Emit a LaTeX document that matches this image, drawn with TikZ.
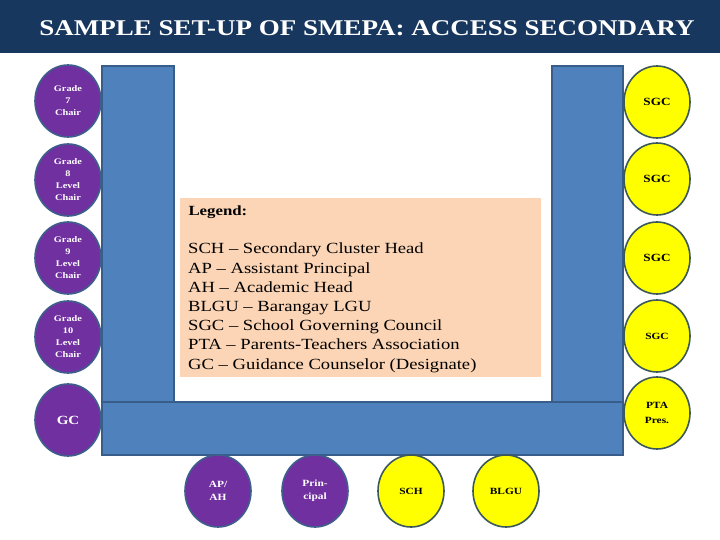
\documentclass[tikz,border=0pt]{standalone}
\usepackage{fontspec}
\setmainfont{Liberation Serif}
\newfontfamily\bookfont[FakeStretch=1.2]{Liberation Serif}
\usepackage{tikz}
\usetikzlibrary{shapes.geometric,positioning}

\definecolor{navybar}{HTML}{17375E}
\definecolor{tablefill}{HTML}{4F81BD}
\definecolor{tableline}{HTML}{385D8A}
\definecolor{purpleseat}{HTML}{7030A0}
\definecolor{purpleline}{HTML}{3E5F8C}
\definecolor{yellowseat}{HTML}{FFFF00}
\definecolor{yellowline}{HTML}{3C5858}
\definecolor{legendfill}{HTML}{FBD5B5}

\begin{document}
\begin{tikzpicture}[x=1pt, y=-1pt,
  seat/.style={ellipse, line width=1.6pt, minimum width=66pt, minimum height=72pt,
    inner sep=0pt, align=center, font=\bookfont\bfseries\fontsize{8.6}{12}\selectfont},
  purpleseat/.style={seat, fill=purpleseat, draw=purpleline, text=white},
  yellowseat/.style={seat, fill=yellowseat, draw=yellowline, text=black},
  tablepart/.style={fill=tablefill, draw=tableline, line width=1.2pt}]

\useasboundingbox (0,0) rectangle (720,540);

% ---- Title bar ----
\fill[navybar] (0,0) rectangle (720,53);
\node[text=white, font=\bookfont\bfseries\fontsize{22.5}{26}\selectfont] (title) at (367,28)
  {SAMPLE SET-UP OF SMEPA: ACCESS SECONDARY};

% ---- U-shaped table ----
\draw[tablepart] (102,66) rectangle (174,402);
\draw[tablepart] (552,66) rectangle (623,402);
\draw[tablepart] (102,402) rectangle (623,455);

% ---- Legend ----
\fill[legendfill] (180,198) rectangle (541,377);
\node[anchor=west, font=\bookfont\bfseries\fontsize{14}{16}\selectfont] (legendhead) at (185,212) {Legend:};
\node[anchor=north west, align=left, inner sep=0pt,
  font=\bookfont\fontsize{15.5}{19.2}\selectfont] (legendtext) at (188,243)
  {SCH – Secondary Cluster Head\\
   AP – Assistant Principal\\
   AH – Academic Head\\
   BLGU – Barangay LGU\\
   SGC – School Governing Council\\
   PTA – Parents-Teachers Association\\
   GC – Guidance Counselor (Designate)};

% ---- Left seats ----
\node[purpleseat] (grade7)  at (68,101) {Grade\\7\\Chair};
\node[purpleseat] (grade8)  at (68,180) {Grade\\8\\Level\\Chair};
\node[purpleseat] (grade9)  at (68,258) {Grade\\9\\Level\\Chair};
\node[purpleseat] (grade10) at (68,337) {Grade\\10\\Level\\Chair};
\node[purpleseat, font=\bookfont\bfseries\fontsize{12.5}{14}\selectfont] (gc) at (68,420) {GC};

% ---- Right seats ----
\node[yellowseat, font=\bookfont\bfseries\fontsize{11}{12}\selectfont] (sgc1) at (657,102) {SGC};
\node[yellowseat, font=\bookfont\bfseries\fontsize{11}{12}\selectfont] (sgc2) at (657,179) {SGC};
\node[yellowseat, font=\bookfont\bfseries\fontsize{11}{12}\selectfont] (sgc3) at (657,258) {SGC};
\node[yellowseat, font=\bookfont\bfseries\fontsize{9.5}{12}\selectfont] (sgc4) at (657,336) {SGC};
\node[yellowseat, font=\bookfont\bfseries\fontsize{9.5}{15}\selectfont] (pta) at (657,413) {PTA\\Pres.};

% ---- Bottom seats ----
\node[purpleseat, font=\bookfont\bfseries\fontsize{9.5}{13}\selectfont] (apah)      at (218,491) {AP/\\AH};
\node[purpleseat, font=\bookfont\bfseries\fontsize{9.5}{13}\selectfont] (principal) at (315,491) {Prin-\\cipal};
\node[yellowseat, font=\bookfont\bfseries\fontsize{9.5}{12}\selectfont] (sch)       at (411,491) {SCH};
\node[yellowseat, font=\bookfont\bfseries\fontsize{9.5}{12}\selectfont] (blgu)      at (506,491) {BLGU};

\end{tikzpicture}
\end{document}
